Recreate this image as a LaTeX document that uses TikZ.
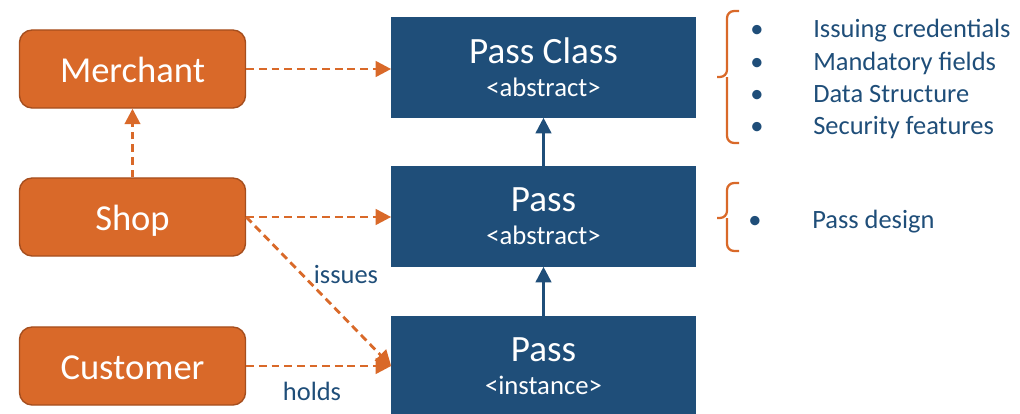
\documentclass[tikz,border=0pt]{standalone}
\usepackage{fontspec}
\setmainfont{Carlito}
\usepackage{tikz}
\usetikzlibrary{arrows.meta,calc}

\definecolor{shoporange}{RGB}{217,105,41}
\definecolor{shopedge}{RGB}{165,78,30}
\definecolor{passblue}{RGB}{31,78,121}

\begin{document}
\begin{tikzpicture}[x=0.025cm,y=-0.025cm,
    actor/.style={draw=shopedge, line width=1pt, fill=shoporange, rounded corners=9pt,
      minimum width=5.65cm, minimum height=1.95cm, text=white,
      text height=19pt, text depth=0pt, font=\fontsize{26}{31}\selectfont},
    passbox/.style={fill=passblue, minimum width=7.6cm, minimum height=2.5cm, text=white,
      align=center, inner sep=0pt, font=\fontsize{19}{23.4}\selectfont},
    uses/.style={draw=shoporange, line width=2pt, dash pattern=on 5.5pt off 3.5pt,
      -{Triangle[length=11pt,width=11pt]}},
    extends/.style={draw=passblue, line width=1.9pt, -{Triangle[length=11pt,width=11pt]}},
    brace/.style={draw=shoporange, line width=1.6pt, rounded corners=5pt},
    note/.style={text=passblue, font=\fontsize{18.8}{22}\selectfont, inner sep=0pt}
  ]
  \useasboundingbox (0,0) rectangle (1020,414);

  % actors
  \node[actor] (merchant) at (132.5,69) {Merchant};
  \node[actor] (shop) at (132.5,217) {Shop};
  \node[actor] (customer) at (132.5,366) {Customer};

  % pass hierarchy
  \node[passbox] (passclass) at (543.5,67.5) {{\fontsize{26.4}{31}\selectfont Pass Class}\\<abstract>};
  \node[passbox] (passabs) at (543.5,216.5) {{\fontsize{26.4}{31}\selectfont Pass}\\<abstract>};
  \node[passbox] (passinst) at (543.5,366) {{\fontsize{26.4}{31}\selectfont Pass}\\<instance>};

  \draw[extends] (passabs) -- (passclass);
  \draw[extends] (passinst) -- (passabs);

  \draw[uses] (merchant.east) -- (merchant.east -| passclass.west);
  \draw[uses] (shop.north) -- (merchant.south);
  \draw[uses] (shop.east) -- (shop.east -| passabs.west);
  \draw[uses] (shop.east) -- (passinst.west);
  \draw[uses] (customer.east) -- (passinst.west);

  \node[note] (issues) at (346,274) {issues};
  \node[note] (holds) at (312,391) {holds};

  % notes on the right
  \coordinate (b1) at (727,11);
  \coordinate (b2) at (727,218);
  \draw[brace] ($(b1)+(12,0)$) -- (b1) -- ($(b1)+(0,66)$) -- ($(b1)+(-10,66)$);
  \draw[brace] ($(b1)+(0,66)$) -- ($(b1)+(0,132)$) -- ($(b1)+(12,132)$);
  \draw[brace] ($(b2)+(12,-35)$) -- ($(b2)+(0,-35)$) -- (b2) -- ($(b2)+(-10,0)$);
  \draw[brace] (b2) -- ($(b2)+(0,33)$) -- ($(b2)+(12,33)$);

  \node[note,anchor=base] (dot1) at (757,37) {•};
  \node[note,anchor=base west] (item1) at (813,37) {Issuing credentials};
  \node[note,anchor=base] (dot2) at (757,70) {•};
  \node[note,anchor=base west] (item2) at (813,70) {Mandatory fields};
  \node[note,anchor=base] (dot3) at (757,102) {•};
  \node[note,anchor=base west] (item3) at (813,102) {Data Structure};
  \node[note,anchor=base] (dot4) at (757,134) {•};
  \node[note,anchor=base west] (item4) at (813,134) {Security features};
  \node[note,anchor=base] (dot5) at (755,228) {•};
  \node[note,anchor=base west] (item5) at (812,228) {Pass design};
\end{tikzpicture}
\end{document}
